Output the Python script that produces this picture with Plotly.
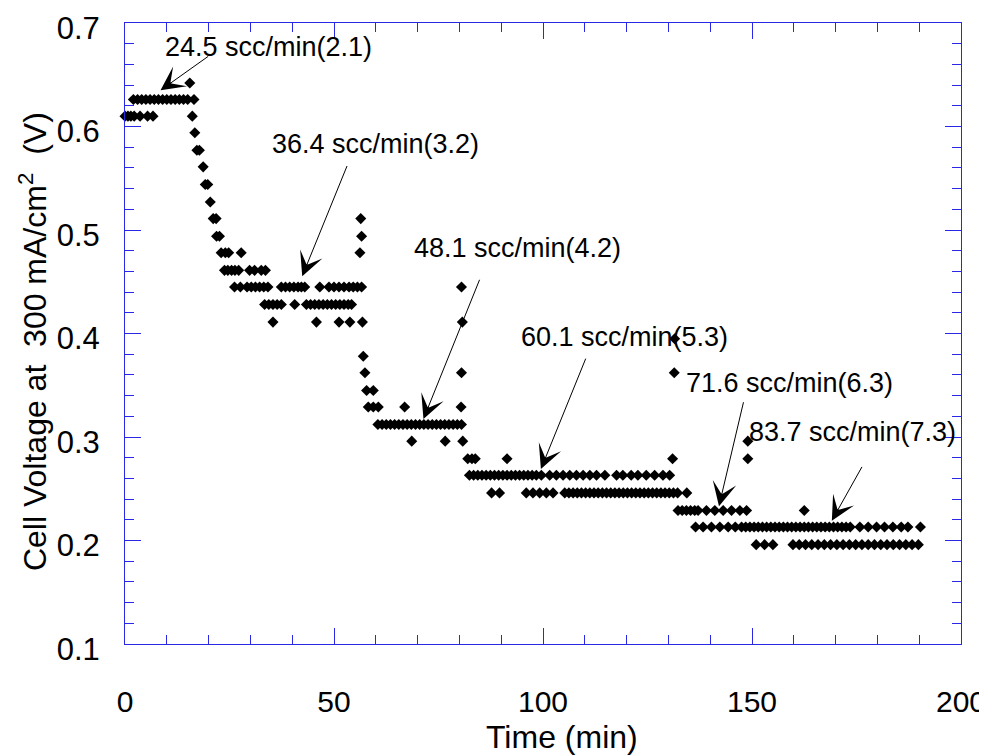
import plotly.graph_objects as go

# ---- data (time in min, voltage in V) ----
voltage_levels = [0.642, 0.626, 0.610, 0.594, 0.577, 0.561, 0.544, 0.527,
                  0.511, 0.494, 0.478, 0.461, 0.445, 0.428, 0.411, 0.395,
                  0.378, 0.362, 0.345, 0.329, 0.312, 0.296, 0.279, 0.263,
                  0.246, 0.229, 0.213, 0.196]

times_at_level = [
    [15.5],                                                     # 0.642
    [2, 3, 4, 5, 6, 7, 8, 9, 10, 11, 12, 13, 14, 15, 16.5],     # 0.626
    [0, 0.7, 1.4, 2.2, 3.6, 5.4, 6.7, 16.1],                    # 0.610
    [16.7],                                                     # 0.594
    [17.2, 17.8],                                               # 0.577
    [18.7],                                                     # 0.561
    [19.2, 19.8],                                               # 0.544
    [20.4],                                                     # 0.527
    [21.1, 21.8, 56.4],                                         # 0.511
    [21.9, 22.6, 56.6],                                         # 0.494
    [23.0, 24.0, 24.8, 27.8, 56.2],                             # 0.478
    [23.8, 24.6, 25.5, 26.3, 27.2, 29.8, 31.0, 32.6, 33.6],     # 0.461
    [26.2, 27.6, 29.2, 30.2, 31.2, 32.2, 33.2, 34.2, 37.4, 38.4,
     39.4, 40.4, 41.4, 42.2, 43.0, 46.6, 48.8, 50.0, 51.2, 52.4,
     53.6, 54.6, 55.6, 56.6, 80.5],                             # 0.445
    [33.4, 34.4, 35.4, 36.4, 37.4, 40.6, 43.4, 44.4, 45.4, 46.4,
     47.4, 48.4, 49.4, 50.4, 51.4, 52.4, 53.4, 54.2],           # 0.428
    [35.4, 45.8, 51.2, 53.8, 56.8, 80.7],                       # 0.411
    [131.5],                                                    # 0.395
    [57.0],                                                     # 0.378
    [57.4, 80.5, 131.4],                                        # 0.362
    [57.8, 59.4],                                               # 0.345
    [58.2, 59.4, 60.6, 66.9, 80.4],                             # 0.329
    [60.5, 61.5, 62.5, 63.5, 64.5, 65.5, 66.5, 67.5, 68.5, 69.5,
     70.5, 71.5, 72.5, 73.5, 74.5, 75.5, 76.5, 77.5, 78.5, 79.5,
     80.5],                                                     # 0.312
    [68.6, 76.6, 80.8, 149.0],                                  # 0.296
    [82.0, 83.0, 83.8, 91.4, 131.0, 149.0],                     # 0.279
    [82.4, 83.4, 84.4, 85.4, 86.4, 87.4, 88.4, 89.4, 90.4, 91.4,
     92.4, 93.4, 94.4, 95.4, 96.4, 97.4, 98.4, 99.6, 101.6, 103.2,
     104.8, 106.4, 108.0, 109.6, 111.2, 112.8, 114.8, 117.6, 119.1,
     121.1, 122.7, 124.7, 126.7, 128.7, 130.3],                 # 0.263
    [87.7, 89.6, 96.0, 97.6, 99.2, 100.8, 102.4, 105.2, 106.2, 107.2,
     108.2, 109.2, 110.2, 111.2, 112.2, 113.2, 114.2, 115.2, 116.2,
     117.2, 118.2, 119.2, 120.2, 121.2, 122.2, 123.2, 124.2, 125.2,
     126.2, 127.2, 128.2, 129.2, 130.2, 131.2, 132.2, 134.4],   # 0.246
    [132.3, 133.3, 134.3, 135.3, 136.3, 137.1, 139.1, 141.1, 143.1,
     145.1, 147.1, 148.7, 162.5],                               # 0.229
    [136.5, 138.3, 140.3, 142.3, 144.3, 146.0, 147.5, 148.5, 149.5,
     150.5, 151.5, 152.5, 153.5, 154.5, 155.5, 156.5, 157.5, 158.5,
     159.5, 160.5, 161.5, 162.5, 163.5, 164.5, 165.5, 166.5, 167.5,
     168.5, 169.5, 170.5, 171.5, 172.5, 173.5, 175.8, 177.8, 179.8,
     181.7, 183.7, 185.7, 187.3, 190.3],                        # 0.213
    [151.0, 153.0, 155.0, 159.8, 161.3, 162.8, 164.3, 165.8, 167.3,
     168.8, 170.3, 171.8, 173.3, 174.8, 176.3, 177.8, 179.3, 180.8,
     182.3, 183.8, 185.3, 186.8, 188.3, 189.8],                 # 0.196
]

# annotation labels with text centre, arrow tail and arrow head (data coords)
label_texts = ["24.5 scc/min(2.1)", "36.4 scc/min(3.2)", "48.1 scc/min(4.2)",
               "60.1 scc/min(5.3)", "71.6 scc/min(6.3)", "83.7 scc/min(7.3)"]
label_x = [34.4, 60.0, 93.8, 119.5, 158.9, 174.0]
label_y = [0.6765, 0.583, 0.4825, 0.3969, 0.3525, 0.3044]
tail_x = [20.5, 53.7, 85.4, 110.8, 148.3, 176.9]
tail_y = [0.6695, 0.5676, 0.4577, 0.3815, 0.3394, 0.2754]
head_x = [8.5, 42.4, 71.4, 99.5, 142.1, 169.1]
head_y = [0.6350, 0.4554, 0.3174, 0.2690, 0.2332, 0.2192]

x_ticks = [0, 50, 100, 150, 200]
y_ticks = [0.1, 0.2, 0.3, 0.4, 0.5, 0.6, 0.7]

x_title = "Time (min)"
y_title = "Cell Voltage at\u00a0\u00a0300 mA/cm<sup>2</sup>\u00a0\u00a0(V)"

# ---- build point arrays ----
time_min, cell_v = [], []
for lvl, ts in zip(voltage_levels, times_at_level):
    for t in ts:
        time_min.append(t)
        cell_v.append(lvl)

FONT = "Liberation Sans, Arial, sans-serif"
FRAME = "rgb(40,40,230)"

fig = go.Figure()
fig.add_trace(go.Scatter(
    x=time_min, y=cell_v, mode="markers",
    marker=dict(symbol="diamond", size=8.5, color="black", line=dict(width=0)),
    cliponaxis=False, showlegend=False))

for i, txt in enumerate(label_texts):
    fig.add_annotation(x=label_x[i], y=label_y[i], xref="x", yref="y",
                       text=txt, showarrow=False,
                       font=dict(family=FONT, size=27, color="black"),
                       xanchor="center", yanchor="middle")
    fig.add_annotation(x=head_x[i], y=head_y[i], ax=tail_x[i], ay=tail_y[i],
                       xref="x", yref="y", axref="x", ayref="y",
                       text="\u00a0", font=dict(size=8),
                       showarrow=True, arrowhead=3, arrowsize=4,
                       arrowwidth=1, arrowcolor="black")

# axis titles placed where the reference shows them
fig.add_annotation(x=0.5227, y=-0.1498, xref="paper", yref="paper",
                   text=x_title, showarrow=False,
                   font=dict(family=FONT, size=32, color="black"),
                   xanchor="center", yanchor="middle")
fig.add_annotation(x=-0.110, y=0.4863, xref="paper", yref="paper",
                   text=y_title, showarrow=False, textangle=-90,
                   font=dict(family=FONT, size=32, color="black"),
                   xanchor="center", yanchor="middle")

# the page body has an 8 px margin, so the figure is 8 px smaller and
# the left/top margins 8 px smaller to keep the plot frame in place
fig.update_layout(
    width=979, height=747,
    margin=dict(l=117, r=26, t=15, b=111),
    paper_bgcolor="white", plot_bgcolor="white",
    font=dict(family=FONT, color="black"),
    xaxis=dict(
        range=[0, 200], tickvals=x_ticks, ticktext=[str(v) for v in x_ticks],
        ticks="inside", ticklen=16, tickwidth=1, tickcolor=FRAME,
        minor=dict(dtick=10, ticks="inside", ticklen=9, tickcolor=FRAME, tickwidth=1),
        showline=True, linecolor=FRAME, linewidth=1, mirror="allticks",
        showgrid=False, zeroline=False, automargin=False,
        ticklabeloverflow="allow",
        tickfont=dict(size=30, family=FONT, color="black"),
        ticklabelstandoff=31,
    ),
    yaxis=dict(
        range=[0.1, 0.7], tickvals=y_ticks, ticktext=["%.1f" % v for v in y_ticks],
        ticks="inside", ticklen=16, tickwidth=1, tickcolor=FRAME,
        minor=dict(dtick=0.02, ticks="inside", ticklen=9, tickcolor=FRAME, tickwidth=1),
        showline=True, linecolor=FRAME, linewidth=1, mirror="allticks",
        showgrid=False, zeroline=False, automargin=False,
        ticklabeloverflow="allow",
        tickfont=dict(size=31, family=FONT, color="black"),
        ticklabelstandoff=18, ticklabelshift=5,
    ),
)

fig.write_html("out.html")
